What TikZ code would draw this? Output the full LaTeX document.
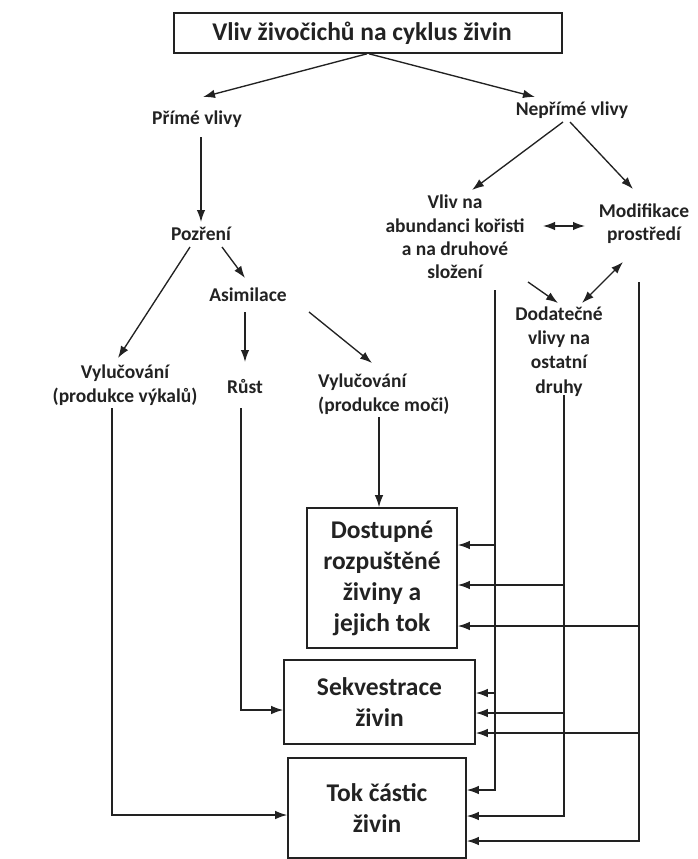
\documentclass[tikz,border=0pt]{standalone}
\usepackage{fontspec}
\setmainfont{Carlito}
\usetikzlibrary{arrows.meta,calc}
\newcommand\smallfnt{\fontsize{19.5}{24.3}\selectfont\bfseries}
\newcommand\bigfnt{\fontsize{25.5}{31}\selectfont\bfseries}
\definecolor{inkline}{HTML}{222222}
\tikzset{
  lbl/.style={font=\smallfnt, align=center, inner sep=0pt, text=inkline},
  boxnode/.style={draw=inkline, line width=1.6pt, font=\bigfnt, align=center, inner sep=0pt, text=inkline},
  ln/.style={line width=1.35pt, draw=inkline},
  arr/.style={ln, -{Latex[length=12pt,width=8.5pt]}},
  dbl/.style={ln, {Latex[length=12pt,width=8.5pt]}-{Latex[length=12pt,width=8.5pt]}},
}
\begin{document}
\begin{tikzpicture}[x=1pt,y=-1pt]
\useasboundingbox (0,0) rectangle (697,859);

% title (text sits slightly left of the frame centre) and the two branches
\node[boxnode, minimum width=388pt, minimum height=40pt] (title) at (368,33) {\hspace*{-12pt}Vliv živočichů na cyklus živin};
\node[lbl] (prime) at (197,119) {Přímé vlivy};
\node[lbl] (neprime) at (572,110) {Nepřímé vlivy};

% direct effects
\node[lbl] (pozr) at (201,234) {Pozření};
\node[lbl] (asim) at (248,295) {Asimilace};
\node[lbl] (vyl1) at (125,385) {Vylučování\\(produkce výkalů)};
\node[lbl] (rust) at (245,387) {Růst};
\node[lbl, align=left, anchor=west] (vyl2) at (318,394.5) {Vylučování\\(produkce moči)};

% indirect effects
\node[lbl, font=\fontsize{19.5}{23.3}\selectfont\bfseries] (vlivna) at (455,237) {Vliv na\\abundanci kořisti\\a na druhové\\složení};
\node[lbl, font=\fontsize{19.5}{23.3}\selectfont\bfseries] (modif) at (644,223.5) {Modifikace\\prostředí};
\node[lbl] (dodat) at (559,351.5) {Dodatečné\\vlivy na\\ostatní\\druhy};

% result boxes
\node[boxnode, minimum width=150pt, minimum height=140pt] (dost) at (382,578) {Dostupné\\rozpuštěné\\živiny a\\jejich tok};
\node[boxnode, minimum width=191pt, minimum height=84pt] (sekv) at (379.5,702) {Sekvestrace\\živin};
\node[boxnode, minimum width=178pt, minimum height=100pt] (tok) at (377,808) {Tok částic\\živin};

% ports on the result boxes
\coordinate (dA) at ($(dost.east)+(0,-33)$);
\coordinate (dB) at ($(dost.east)+(0,7)$);
\coordinate (dC) at ($(dost.east)+(0,48)$);
\coordinate (sA) at ($(sekv.east)+(0,-9)$);
\coordinate (sB) at ($(sekv.east)+(0,11)$);
\coordinate (sC) at ($(sekv.east)+(0,31)$);
\coordinate (tA) at ($(tok.east)+(0,-18)$);
\coordinate (tB) at ($(tok.east)+(0,8)$);
\coordinate (tC) at ($(tok.east)+(0,33)$);
\coordinate (sR) at ($(sekv.west)+(0,8)$);
\coordinate (tV) at ($(tok.west)+(0,7)$);

% upper arrows
\draw[arr] ($(title.south)+(-1,0)$) -- ($(prime.center)+(6,-22)$);
\draw[arr] ($(title.south)+(1,0)$) -- ($(neprime.center)+(-37,-13)$);
\draw[arr] ($(prime.center)+(4,18)$) -- ($(pozr.center)+(0,-12)$);
\draw[arr] ($(neprime.center)+(-9,12)$) -- ($(vlivna.center)+(17,-47)$);
\draw[arr] ($(neprime.center)+(-2,12)$) -- ($(modif.center)+(-11,-34.5)$);
\draw[dbl] ($(vlivna.center)+(88,-11)$) -- ($(modif.center)+(-59,2.5)$);
\draw[arr] ($(pozr.center)+(-11,13)$) -- ($(vyl1.center)+(-7,-27)$);
\draw[arr] ($(pozr.center)+(21,13)$) -- ($(asim.center)+(-3,-17)$);
\draw[arr] ($(asim.center)+(-3,17)$) -- ($(rust.center)+(0,-25)$);
\draw[arr] ($(asim.center)+(61,17)$) -- ($(vyl2.west)+(54,-31.5)$);
\draw[arr] ($(vlivna.center)+(73,45)$) -- ($(dodat.center)+(-1,-48.5)$);
\draw[dbl] ($(modif.center)+(-21,38.5)$) -- ($(dodat.center)+(23,-48.5)$);

% flows into the result boxes
\draw[arr] ($(vyl2.west)+(61,22.5)$) -- ($(dost.north)+(-3,0)$);
\draw[arr] ($(rust.center)+(-4,21)$) |- (sR);
\draw[arr] ($(vyl1.center)+(-13,23)$) |- (tV);

\coordinate (ta) at ($(vlivna.center)+(40,53)$);
\coordinate (tb) at ($(dodat.center)+(5,43.5)$);
\coordinate (tc) at ($(modif.center)+(-5,58.5)$);
\draw[arr] (ta) |- (tA);
\draw[arr] (ta |- dA) -- (dA);
\draw[arr] (ta |- sA) -- (sA);
\draw[arr] (tb) |- (tB);
\draw[arr] (tb |- dB) -- (dB);
\draw[arr] (tb |- sB) -- (sB);
\draw[arr] (tc) |- (tC);
\draw[arr] (tc |- dC) -- (dC);
\draw[arr] (tc |- sC) -- (sC);
\end{tikzpicture}
\end{document}
